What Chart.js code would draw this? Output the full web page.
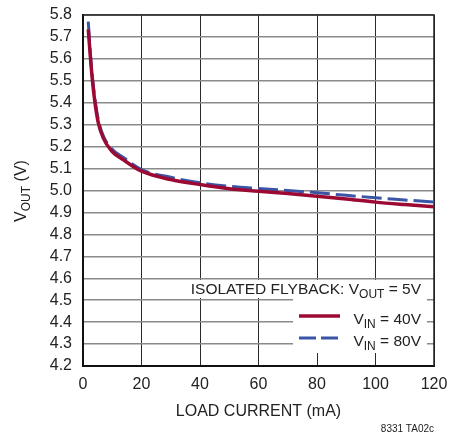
<!DOCTYPE html>
<html><head><meta charset="utf-8">
<script src="https://cdn.jsdelivr.net/npm/chart.js@4/dist/chart.umd.min.js"></script>
<style>html,body{margin:0;padding:0;background:#fff}#wrap{width:451px;height:436px}</style>
</head><body><div id="wrap"><canvas id="c" width="451" height="436"></canvas></div>
<script>
const xTicks = [0, 20, 40, 60, 80, 100, 120];
const yTicks = [4.2,4.3,4.4,4.5,4.6,4.7,4.8,4.9,5.0,5.1,5.2,5.3,5.4,5.5,5.6,5.7,5.8];
const loadCurrent40 = [1.8, 2.6, 3.2, 4.1, 5.2, 6.9, 9.8, 13.8, 20, 30, 40, 50, 60, 70, 80, 90, 100, 110, 120];
const vout40 = [5.735, 5.595, 5.505, 5.40, 5.31, 5.24, 5.18, 5.14, 5.088, 5.05, 5.027, 5.008, 4.997, 4.986, 4.974, 4.961, 4.947, 4.936, 4.926];
const loadCurrent80 = [1.8, 2.6, 3.2, 4.1, 5.2, 6.9, 9.8, 13.8, 20, 30, 40, 50, 60, 70, 80, 90, 100, 110, 120];
const vout80 = [5.77, 5.61, 5.52, 5.415, 5.325, 5.25, 5.19, 5.15, 5.095, 5.06, 5.035, 5.019, 5.009, 5.0, 4.99, 4.978, 4.967, 4.957, 4.947];

const RED = '#9c0a34', BLUE = '#3b55a6';
const FONT = '"Liberation Sans", Arial, sans-serif';

function pts(xs, ys){ return xs.map((x,i)=>({x, y: ys[i]})); }

function drawSub(ctx, parts, x, y, size, align){
  const big = size + 'px ' + FONT, small = Math.round(size*0.78) + 'px ' + FONT;
  let w = 0;
  parts.forEach(p => { ctx.font = p[1] ? small : big; w += ctx.measureText(p[0]).width; });
  let cx = align === 'right' ? x - w : (align === 'center' ? x - w/2 : x);
  ctx.textBaseline = 'alphabetic'; ctx.textAlign = 'left';
  parts.forEach(p => {
    ctx.font = p[1] ? small : big;
    ctx.fillText(p[0], cx, p[1] ? y + size*0.28 : y);
    cx += ctx.measureText(p[0]).width;
  });
  return w;
}

const overlay = {
  id: 'overlay',
  beforeDatasetsDraw(chart){
    const ctx = chart.ctx;
    const a = chart.chartArea;
    ctx.save();
    ctx.strokeStyle = '#222'; ctx.lineWidth = 1.5;
    ctx.beginPath(); ctx.moveTo(a.left, a.top); ctx.lineTo(a.right, a.top); ctx.lineTo(a.right, a.bottom); ctx.stroke();
    ctx.fillStyle = '#fff';
    ctx.fillRect(187, 280, 240, 18);
    ctx.fillRect(293, 298, 134, 55);
    ctx.fillStyle = '#222';
    drawSub(ctx, [['ISOLATED FLYBACK: V', false], ['OUT', true], [' = 5V', false]], 421, 294, 15.5, 'right');
    drawSub(ctx, [['V', false], ['IN', true], [' = 40V', false]], 421, 324, 15.5, 'right');
    drawSub(ctx, [['V', false], ['IN', true], [' = 80V', false]], 421, 346, 15.5, 'right');
    ctx.lineWidth = 3.5;
    ctx.strokeStyle = RED;
    ctx.beginPath(); ctx.moveTo(299, 316); ctx.lineTo(340, 316); ctx.stroke();
    ctx.strokeStyle = BLUE; ctx.lineWidth = 3;
    ctx.setLineDash([17, 5]);
    ctx.beginPath(); ctx.moveTo(299, 338); ctx.lineTo(340, 338); ctx.stroke();
    ctx.restore();
  },
  afterDraw(chart){
    const ctx = chart.ctx;
    ctx.save();
    ctx.fillStyle = '#222';
    ctx.translate(26, 191);
    ctx.rotate(-Math.PI/2);
    drawSub(ctx, [['V', false], ['OUT', true], [' (V)', false]], 0, 0, 16, 'center');
    ctx.restore();
    ctx.save();
    ctx.fillStyle = '#222';
    ctx.font = '10px ' + FONT;
    ctx.textAlign = 'right'; ctx.textBaseline = 'middle';
    ctx.fillText('8331 TA02c', 434, 429);
    ctx.restore();
  }
};

new Chart(document.getElementById('c'), {
  type: 'scatter',
  data: { datasets: [
    { label: 'VIN = 40V', data: pts(loadCurrent40, vout40), showLine: true, borderColor: RED, borderWidth: 3.5, pointRadius: 0, cubicInterpolationMode: 'monotone', fill: false },
    { label: 'VIN = 80V', data: pts(loadCurrent80, vout80), showLine: true, borderColor: BLUE, borderWidth: 3, borderDash: [20, 6], pointRadius: 0, cubicInterpolationMode: 'monotone', fill: false }
  ]},
  options: {
    responsive: false, animation: false, devicePixelRatio: 1,
    layout: { padding: { left: 0, right: 17, top: 15, bottom: 0 } },
    plugins: { legend: { display: false }, tooltip: { enabled: false } },
    scales: {
      x: {
        type: 'linear', min: 0, max: 120,
        afterBuildTicks: s => { s.ticks = xTicks.map(v => ({value: v})); },
        afterFit: s => { s.height = 70; s.paddingLeft = 0; s.paddingRight = 0; },
        ticks: { color: '#222', font: { family: FONT, size: 16 }, padding: 9, maxRotation: 0, autoSkip: false },
        grid: { color: '#2a2a2a', lineWidth: 1, drawTicks: false },
        border: { color: '#111', width: 2 },
        title: { display: true, text: 'LOAD CURRENT (mA)', color: '#222', font: { family: FONT, size: 16 }, padding: { top: 0, bottom: 15 } }
      },
      y: {
        type: 'linear', min: 4.2, max: 5.8,
        afterBuildTicks: s => { s.ticks = yTicks.map(v => ({value: v})); },
        afterFit: s => { s.width = 83; s.paddingTop = 0; s.paddingBottom = 0; },
        ticks: { color: '#222', font: { family: FONT, size: 16 }, padding: 11, autoSkip: false, callback: v => v.toFixed(1) },
        grid: { color: '#8a8a8a', lineWidth: 1.5, drawTicks: false },
        border: { color: '#111', width: 2 }
      }
    }
  },
  plugins: [overlay]
});
</script></body></html>
